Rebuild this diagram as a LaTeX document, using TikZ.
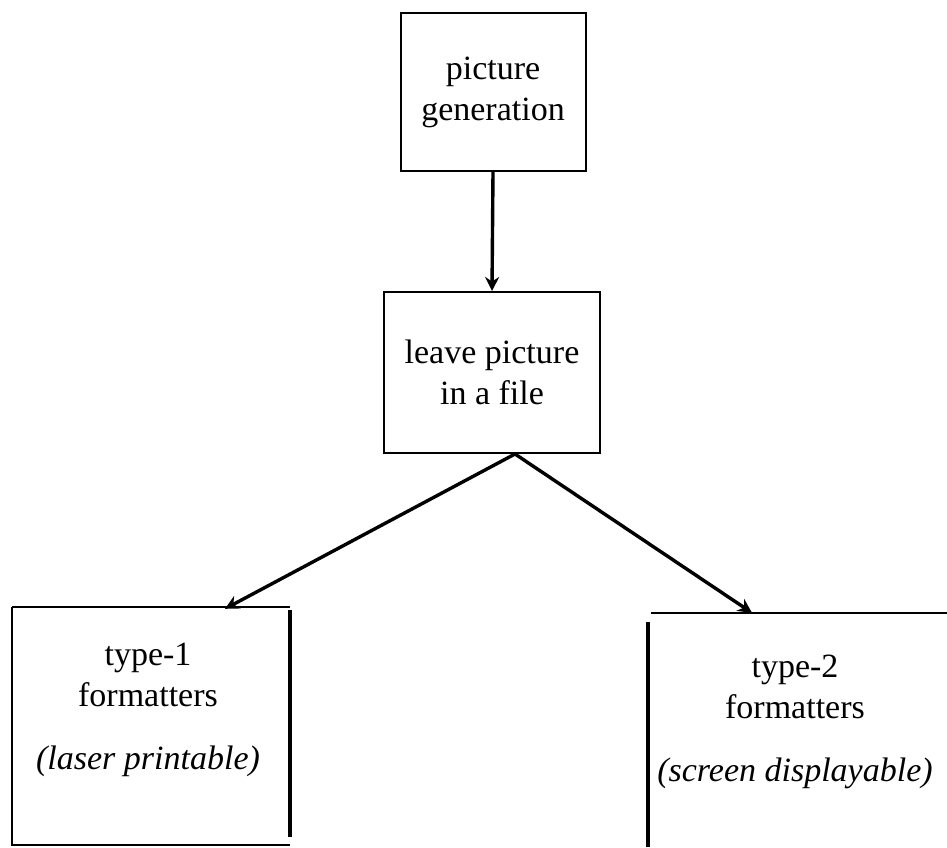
\documentclass[tikz,border=0pt]{standalone}
\usepackage{fontspec}
\setmainfont{Liberation Serif}
\usetikzlibrary{arrows.meta}
\begin{document}
\begin{tikzpicture}[x=1pt,y=-1pt,
  txt/.style={font=\fontsize{34}{41}\selectfont, align=center, inner sep=0pt},
  boxline/.style={line width=2pt},
  thickedge/.style={line width=4pt},
  arr/.style={line width=3.4pt, -{Stealth[length=14pt,width=14pt]}}]
\useasboundingbox (0,0) rectangle (947,847);
% top box
\node[txt, draw, boxline, minimum width=185pt, minimum height=158pt] (top) at (493,92) {picture\\generation};
% middle box
\node[txt, draw, boxline, minimum width=216pt, minimum height=161pt] (mid) at (492,372.5) {leave picture\\in a file};
% left box
\node[txt, minimum width=278pt, minimum height=238pt] (left) at (151,726) {};
\node[txt] (lt) at (148,710) {type-1\\formatters\\[22pt]\textit{(laser printable)}};
\draw[boxline] (left.north west) -- (left.north east);
\draw[boxline] (left.north west) -- (left.south west) -- (left.south east);
\draw[thickedge] ([yshift=-3pt]left.north east) -- ([yshift=8pt]left.south east);
% right box
\node[txt, minimum width=300pt, minimum height=234pt] (right) at (798,730) {};
\node[txt] (rt) at (795,722) {type-2\\formatters\\[22pt]\textit{(screen displayable)}};
\draw[boxline] ([xshift=3pt]right.north west) -- (right.north east);
\draw[thickedge] ([yshift=-9pt]right.north west) -- (right.south west);
% connectors
\coordinate (apex) at ([xshift=23pt]mid.south);
\coordinate (ltip) at ([xshift=74pt,yshift=-2pt]left.north);
\coordinate (rtip) at ([xshift=-46pt]right.north);
\draw[arr] (top.south) -- (mid.north);
\draw[arr] (apex) -- (ltip);
\draw[arr] (apex) -- (rtip);
\end{tikzpicture}
\end{document}
